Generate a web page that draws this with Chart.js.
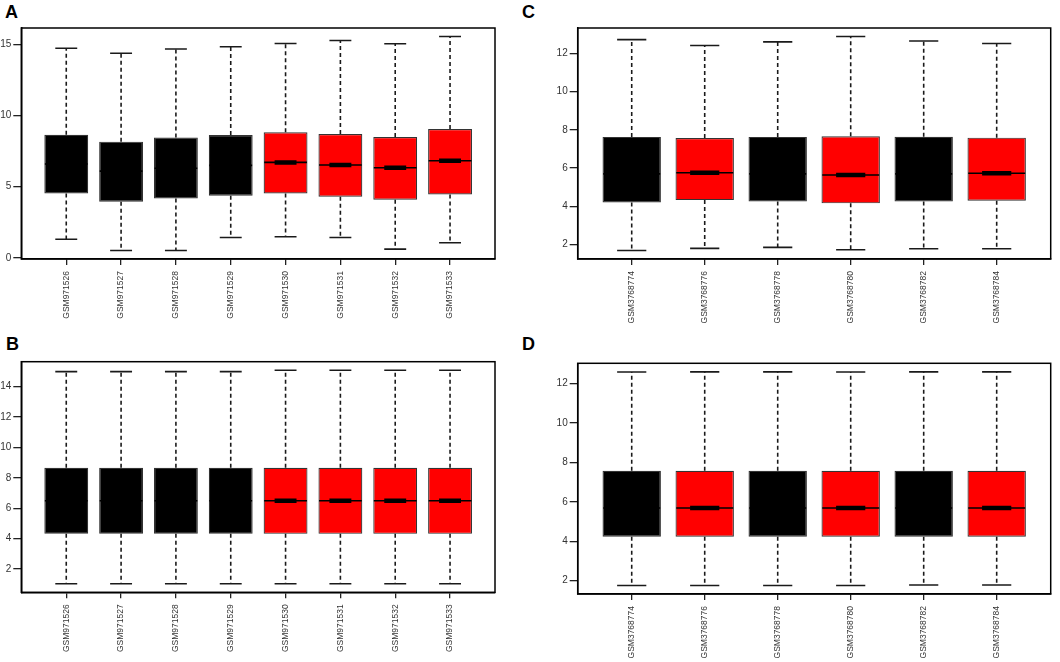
<!DOCTYPE html>
<html>
<head>
<meta charset="utf-8">
<script src="https://cdn.jsdelivr.net/npm/chart.js@4"></script>
<style>
  body { margin: 0; background: #fff; width: 1060px; height: 662px; position: relative; overflow: hidden; }
  canvas { position: absolute; }
  .tag { position: absolute; font: bold 18px "Liberation Sans", Arial, sans-serif; color: #000; }
</style>
</head>
<body>
<div class="tag" style="left:5px;top:2px">A</div>
<div class="tag" style="left:522px;top:2px">C</div>
<div class="tag" style="left:6px;top:334px">B</div>
<div class="tag" style="left:522px;top:334px">D</div>
<canvas id="chartA" width="530" height="331" style="left:0;top:0"></canvas>
<canvas id="chartC" width="530" height="331" style="left:530px;top:0"></canvas>
<canvas id="chartB" width="530" height="331" style="left:0;top:331px"></canvas>
<canvas id="chartD" width="530" height="331" style="left:530px;top:331px"></canvas>
<script>
// samples and groups
const samplesAB = ['GSM971526', 'GSM971527', 'GSM971528', 'GSM971529', 'GSM971530', 'GSM971531', 'GSM971532', 'GSM971533']
const groupsAB = ['ctrl', 'ctrl', 'ctrl', 'ctrl', 'case', 'case', 'case', 'case']
const samplesCD = ['GSM3768774', 'GSM3768776', 'GSM3768778', 'GSM3768780', 'GSM3768782', 'GSM3768784']
const groupsCD = ['ctrl', 'case', 'ctrl', 'case', 'ctrl', 'case']

// A - before normalisation
const aMin = [1.31, 0.52, 0.52, 1.43, 1.48, 1.43, 0.61, 1.06]
const aQ1 = [4.53, 3.94, 4.18, 4.37, 4.53, 4.30, 4.08, 4.46]
const aMed = [6.60, 6.10, 6.30, 6.50, 6.71, 6.53, 6.34, 6.83]
const aQ3 = [8.66, 8.17, 8.47, 8.64, 8.83, 8.71, 8.50, 9.06]
const aMax = [14.74, 14.39, 14.69, 14.84, 15.07, 15.28, 15.05, 15.56]
const aTicks = [0, 5, 10, 15]

// B - after normalisation
const bMin = [1.04, 1.04, 1.04, 1.04, 1.04, 1.04, 1.04, 1.04]
const bQ1 = [4.32, 4.32, 4.32, 4.32, 4.32, 4.32, 4.32, 4.32]
const bMed = [6.49, 6.49, 6.49, 6.49, 6.49, 6.49, 6.49, 6.49]
const bQ3 = [8.66, 8.66, 8.66, 8.66, 8.66, 8.66, 8.66, 8.66]
const bMax = [14.98, 14.98, 14.98, 14.98, 15.07, 15.07, 15.07, 15.07]
const bTicks = [2, 4, 6, 8, 10, 12, 14]

// C - before normalisation
const cMin = [1.70, 1.81, 1.86, 1.74, 1.79, 1.79]
const cQ1 = [4.20, 4.33, 4.25, 4.16, 4.25, 4.30]
const cMed = [5.70, 5.76, 5.70, 5.64, 5.70, 5.73]
const cQ3 = [7.63, 7.57, 7.63, 7.66, 7.64, 7.59]
const cMax = [12.71, 12.40, 12.59, 12.87, 12.64, 12.51]
const cTicks = [2, 4, 6, 8, 10, 12]

// D - after normalisation
const dMin = [1.76, 1.76, 1.76, 1.76, 1.78, 1.78]
const dQ1 = [4.23, 4.23, 4.23, 4.23, 4.23, 4.23]
const dMed = [5.69, 5.69, 5.69, 5.69, 5.69, 5.69]
const dQ3 = [7.58, 7.58, 7.58, 7.58, 7.58, 7.58]
const dMax = [12.59, 12.60, 12.60, 12.59, 12.60, 12.60]
const dTicks = [2, 4, 6, 8, 10, 12]

const colorOf = { ctrl: '#000000', case: '#ff0000' }
const fontFam = '"Liberation Sans", Arial, sans-serif'

// plot frame like R's box()
const framePlugin = {
  id: 'frame',
  afterDatasetsDraw(chart) {
    const a = chart.chartArea
    const ctx = chart.ctx
    ctx.save()
    ctx.strokeStyle = '#000'
    ctx.lineWidth = 1.5
    ctx.strokeRect(a.left, a.top, a.right - a.left, a.bottom - a.top)
    ctx.restore()
  }
}

function boxChart(id, names, groups, mins, q1s, meds, q3s, maxs, yTicks, area) {
  const n = names.length
  const lo = Math.min(...mins), hi = Math.max(...maxs)
  const pad = (hi - lo) * 0.04
  const whisk = [], caps = [], medThin = [], medThick = [], boxes = []
  names.forEach((s, i) => {
    const x = i + 1
    whisk.push({x: x, y: q3s[i]}, {x: x, y: maxs[i]}, {x: x, y: null},
               {x: x, y: q1s[i]}, {x: x, y: mins[i]}, {x: x, y: null})
    caps.push({x: x - 0.2, y: maxs[i]}, {x: x + 0.2, y: maxs[i]}, {x: x, y: null},
              {x: x - 0.2, y: mins[i]}, {x: x + 0.2, y: mins[i]}, {x: x, y: null})
    medThin.push({x: x - 0.39, y: meds[i]}, {x: x + 0.39, y: meds[i]}, {x: x, y: null})
    medThick.push({x: x - 0.2, y: meds[i]}, {x: x + 0.2, y: meds[i]}, {x: x, y: null})
    boxes.push({x: x, y: [q1s[i], q3s[i]]})
  })
  const lineBase = { type: 'line', pointRadius: 0, spanGaps: false, tension: 0, fill: false, borderColor: '#1a1a1a' }
  const canvas = document.getElementById(id)
  new Chart(canvas, {
    type: 'bar',
    data: {
      datasets: [
        Object.assign({}, lineBase, { data: medThick, borderWidth: 4.5, borderColor: '#000' }),
        Object.assign({}, lineBase, { data: medThin, borderWidth: 1.6, borderColor: '#000' }),
        Object.assign({}, lineBase, { data: caps, borderWidth: 1.6 }),
        Object.assign({}, lineBase, { data: whisk, borderWidth: 1.6, borderDash: [4, 3] }),
        {
          type: 'bar',
          data: boxes,
          backgroundColor: groups.map(g => colorOf[g]),
          borderColor: '#333',
          borderWidth: 1.2,
          borderSkipped: false,
          barPercentage: 0.8,
          categoryPercentage: 1
        }
      ]
    },
    options: {
      responsive: false,
      animation: false,
      layout: { padding: { left: 0, top: area.top, right: canvas.width - area.right, bottom: 0 } },
      plugins: { legend: { display: false }, tooltip: { enabled: false } },
      scales: {
        x: {
          type: 'linear',
          offset: false,
          min: 0.5 - 0.04 * n,
          max: n + 0.5 + 0.04 * n,
          afterBuildTicks: sc => { sc.ticks = names.map((s, i) => ({ value: i + 1 })) },
          afterFit: sc => { sc.height = canvas.height - area.bottom },
          grid: { drawOnChartArea: false, drawTicks: true, tickLength: 6, color: '#222', lineWidth: 1.3, offset: false },
          border: { display: true, color: '#000', width: 1.5 },
          ticks: {
            autoSkip: false, minRotation: 90, maxRotation: 90, padding: 6,
            color: '#333', font: { family: fontFam, size: 8.5 },
            callback: v => names[Math.round(v) - 1]
          }
        },
        y: {
          min: lo - pad,
          max: hi + pad,
          afterBuildTicks: sc => { sc.ticks = yTicks.map(v => ({ value: v })) },
          afterFit: sc => { sc.width = area.left },
          grid: { drawOnChartArea: false, drawTicks: true, tickLength: 8, color: '#222', lineWidth: 1.3 },
          border: { display: true, color: '#000', width: 1.5 },
          ticks: { padding: 2, color: '#333', font: { family: fontFam, size: 10 } }
        }
      }
    },
    plugins: [framePlugin]
  })
}

boxChart('chartA', samplesAB, groupsAB, aMin, aQ1, aMed, aQ3, aMax, aTicks, { left: 21.3, right: 495, top: 28, bottom: 259 })
boxChart('chartC', samplesCD, groupsCD, cMin, cQ1, cMed, cQ3, cMax, cTicks, { left: 47.7, right: 520.7, top: 28, bottom: 259 })
boxChart('chartB', samplesAB, groupsAB, bMin, bQ1, bMed, bQ3, bMax, bTicks, { left: 21.3, right: 495, top: 30.7, bottom: 261.3 })
boxChart('chartD', samplesCD, groupsCD, dMin, dQ1, dMed, dQ3, dMax, dTicks, { left: 47.7, right: 520.7, top: 32.3, bottom: 263 })
</script>
</body>
</html>
